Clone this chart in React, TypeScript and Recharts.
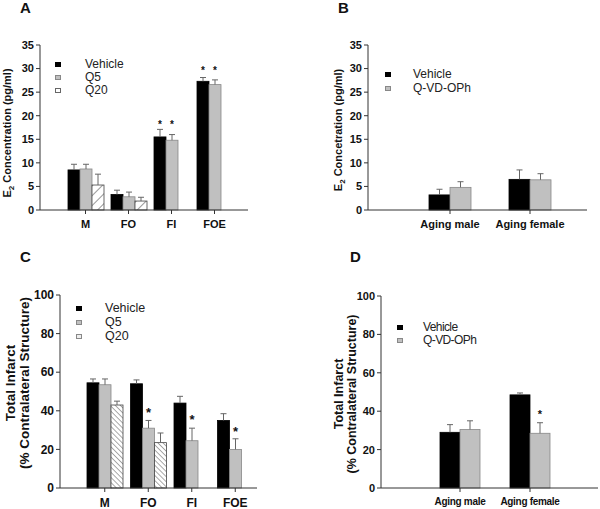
import { BarChart, Bar, XAxis, YAxis, Label } from "recharts";

// panel A - E2 concentration, 4 groups
const catsA = ["M", "FO", "FI", "FOE"];
const vehA = [8.5, 3.3, 15.5, 27.3];
const vehErrA = [1.2, 0.9, 1.6, 0.8];
const q5A = [8.7, 2.8, 14.8, 26.6];
const q5ErrA = [1.0, 1.0, 1.2, 1.0];
const q20A = [5.3, 1.9, null, null];
const q20ErrA = [2.3, 0.8, null, null];
const starA = [null, null, 18.6, 30.2];
const ticksA = [0, 5, 10, 15, 20, 25, 30, 35];

// panel B - aging animals
const catsB = ["Aging male", "Aging female"];
const vehB = [3.2, 6.5];
const vehErrB = [1.2, 2.0];
const qvdB = [4.8, 6.4];
const qvdErrB = [1.2, 1.3];

// panel C - total infarct
const catsC = ["M", "FO", "FI", "FOE"];
const vehC = [54.5, 54, 44, 35];
const vehErrC = [2, 2, 3.5, 3.5];
const q5C = [53.5, 31, 24.5, 20];
const q5ErrC = [3, 4, 6.5, 5.5];
const q20C = [43, 23.5, null, null];
const q20ErrC = [2, 5, null, null];
const starC = [null, 41, 37, 31];
const ticksC = [0, 20, 40, 60, 80, 100];

// panel D
const catsD = ["Aging male", "Aging female"];
const vehD = [29, 48.5];
const vehErrD = [4, 1];
const qvdD = [30.5, 28.5];
const qvdErrD = [4.5, 5.5];
const starD = [null, 40];

const FONT = "Arial, 'Liberation Sans', sans-serif";

const rows = (cats: string[], cols: Record<string, (number | null)[]>) =>
  cats.map((name, i) => {
    const r: any = { name };
    Object.keys(cols).forEach((k) => (r[k] = cols[k][i]));
    return r;
  });

const dataA = rows(catsA, { v: vehA, ve: vehErrA, q: q5A, qe: q5ErrA, z: q20A, ze: q20ErrA, st: starA });
const dataB = rows(catsB, { v: vehB, ve: vehErrB, q: qvdB, qe: qvdErrB });
const dataC = rows(catsC, { v: vehC, ve: vehErrC, q: q5C, qe: q5ErrC, z: q20C, ze: q20ErrC, st: starC });
const dataD = rows(catsD, { v: vehD, ve: vehErrD, q: qvdD, qe: qvdErrD, st: starD });

function barShape(key: string, errKey: string, starKey: string | null, fill: string, stroke: string, starSize = 11) {
  return (p: any) => {
    const v = p.payload?.[key];
    if (v == null || !p.height) return <g />;
    const unit = p.height / v;
    const base = p.y + p.height;
    const cx = p.x + p.width / 2;
    const e = p.payload[errKey];
    const st = starKey ? p.payload[starKey] : null;
    const top = e != null ? p.y - e * unit : p.y;
    return (
      <g>
        <rect x={p.x} y={p.y} width={p.width} height={p.height} fill={fill} stroke={stroke} strokeWidth={0.8} />
        {e != null && (
          <g stroke="#666" strokeWidth={1}>
            <line x1={cx} x2={cx} y1={p.y} y2={top} />
            <line x1={cx - 3} x2={cx + 3} y1={top} y2={top} />
          </g>
        )}
        {st != null && (
          <text x={cx} y={base - st * unit + starSize * 0.6} textAnchor="middle" fontSize={starSize} fontWeight="bold" fontFamily={FONT} fill="#111">
            *
          </text>
        )}
      </g>
    );
  };
}

const tickStyle = (size: number) => ({ fontSize: size, fontWeight: "bold", fill: "#111", fontFamily: FONT });

function LegendBox({ left, top, gap, textLeft, items, size = 12, spacing = 0 }: any) {
  return (
    <div style={{ position: "absolute", left, top, fontFamily: FONT, fontSize: size, color: "#222", letterSpacing: spacing }}>
      {items.map((it: any, i: number) => (
        <div key={it.label} style={{ position: "absolute", top: i * gap, left: 0, height: 14, whiteSpace: "nowrap" }}>
          <div style={{ position: "absolute", left: 0, top: 5, width: 6, height: 5, background: it.fill, border: `1px solid ${it.border}`, boxSizing: "border-box" }} />
          <span style={{ position: "absolute", left: textLeft, top: 0, lineHeight: "14px" }}>{it.label}</span>
        </div>
      ))}
    </div>
  );
}

function PanelLetter({ left, top, text }: any) {
  return (
    <div style={{ position: "absolute", left, top, fontFamily: FONT, fontWeight: "bold", fontSize: 15, lineHeight: "15px", color: "#111" }}>
      {text}
    </div>
  );
}

const axisLine = { stroke: "#333" };

export default function App() {
  return (
    <div style={{ position: "absolute", left: 0, top: 0, width: 600, height: 509, background: "#fff" }}>
      <svg width={0} height={0} style={{ position: "absolute" }}>
        <defs>
          <pattern id="hatchA" patternUnits="userSpaceOnUse" width={7} height={7} patternTransform="rotate(45)">
            <rect width={7} height={7} fill="#fff" />
            <line x1={0} y1={0} x2={0} y2={7} stroke="#333" strokeWidth={1} />
          </pattern>
          <pattern id="hatchC" patternUnits="userSpaceOnUse" width={3.6} height={3.6} patternTransform="rotate(-45)">
            <rect width={3.6} height={3.6} fill="#fff" />
            <line x1={0} y1={0} x2={0} y2={3.6} stroke="#444" strokeWidth={0.9} />
          </pattern>
        </defs>
      </svg>

      <PanelLetter left={20} top={0} text="A" />
      <PanelLetter left={338} top={0} text="B" />
      <PanelLetter left={20} top={249} text="C" />
      <PanelLetter left={350} top={249} text="D" />

      {/* A */}
      <div style={{ position: "absolute", left: 0, top: 0 }}>
        <BarChart width={300} height={250} data={dataA} margin={{ top: 45, right: 52, left: 0, bottom: 0 }} barGap={0}>
          <XAxis dataKey="name" height={40} padding={{ left: 24, right: 12 }} tick={tickStyle(11)} tickSize={4} tickMargin={6} axisLine={axisLine} tickLine={axisLine} interval={0} />
          <YAxis type="number" domain={[0, 35]} ticks={ticksA} width={40} tick={tickStyle(11)} tickSize={4} tickMargin={2} axisLine={axisLine} tickLine={axisLine} interval={0}>
            <Label
              content={() => (
                <text transform="translate(11,133) rotate(-90)" textAnchor="middle" fontSize={11} fontWeight="bold" fontFamily={FONT} fill="#111">
                  E<tspan fontSize={8} dy={3}>2</tspan>
                  <tspan dy={-3}> Concentration (pg/ml)</tspan>
                </text>
              )}
            />
          </YAxis>
          <Bar dataKey="v" barSize={12} isAnimationActive={false} shape={barShape("v", "ve", "st", "#000", "#000", 10)} />
          <Bar dataKey="q" barSize={12} isAnimationActive={false} shape={barShape("q", "qe", "st", "#c0c0c0", "#888", 10)} />
          <Bar dataKey="z" barSize={12} isAnimationActive={false} shape={barShape("z", "ze", null, "url(#hatchA)", "#444")} />
        </BarChart>
      </div>
      <LegendBox
        left={55}
        top={57}
        gap={13}
        textLeft={30}
        items={[
          { label: "Vehicle", fill: "#000", border: "#000" },
          { label: "Q5", fill: "#c0c0c0", border: "#888" },
          { label: "Q20", fill: "#fff", border: "#666" },
        ]}
      />

      {/* B */}
      <div style={{ position: "absolute", left: 300, top: 0 }}>
        <BarChart width={300} height={250} data={dataB} margin={{ top: 45, right: 13, left: 0, bottom: 0 }} barGap={0}>
          <XAxis dataKey="name" height={40} padding={{ left: 42, right: 17 }} tick={tickStyle(11)} tickSize={4} tickMargin={6} axisLine={axisLine} tickLine={axisLine} interval={0} />
          <YAxis type="number" domain={[0, 35]} ticks={ticksA} width={68} tick={tickStyle(11)} tickSize={4} tickMargin={2} axisLine={axisLine} tickLine={axisLine} interval={0}>
            <Label
              content={() => (
                <text transform="translate(42,130) rotate(-90)" textAnchor="middle" fontSize={11} fontWeight="bold" fontFamily={FONT} fill="#111">
                  E<tspan fontSize={8} dy={3}>2</tspan>
                  <tspan dy={-3}> Concetration (pg/ml)</tspan>
                </text>
              )}
            />
          </YAxis>
          <Bar dataKey="v" barSize={21} isAnimationActive={false} shape={barShape("v", "ve", null, "#000", "#000")} />
          <Bar dataKey="q" barSize={21} isAnimationActive={false} shape={barShape("q", "qe", null, "#c0c0c0", "#888")} />
        </BarChart>
      </div>
      <LegendBox
        left={385}
        top={67}
        gap={14}
        textLeft={28}
        items={[
          { label: "Vehicle", fill: "#000", border: "#000" },
          { label: "Q-VD-OPh", fill: "#c0c0c0", border: "#888" },
        ]}
      />

      {/* C */}
      <div style={{ position: "absolute", left: 0, top: 250 }}>
        <BarChart width={300} height={259} data={dataC} margin={{ top: 45, right: 43, left: 0, bottom: 0 }} barGap={0}>
          <XAxis dataKey="name" height={21} padding={{ left: 23, right: 0 }} tick={tickStyle(12)} tickSize={4} tickMargin={6} axisLine={axisLine} tickLine={axisLine} interval={0} />
          <YAxis type="number" domain={[0, 100]} ticks={ticksC} width={60} tick={tickStyle(12)} tickSize={4} tickMargin={2} axisLine={axisLine} tickLine={axisLine} interval={0}>
            <Label
              content={() => (
                <text transform="translate(11,133) rotate(-90)" textAnchor="middle" fontSize={13.5} fontWeight="bold" fontFamily={FONT} fill="#111">
                  <tspan x={0} dy={4}>Total Infarct</tspan>
                  <tspan x={0} dy={14}>(% Contralateral Structure)</tspan>
                </text>
              )}
            />
          </YAxis>
          <Bar dataKey="v" barSize={12} isAnimationActive={false} shape={barShape("v", "ve", null, "#000", "#000")} />
          <Bar dataKey="q" barSize={12} isAnimationActive={false} shape={barShape("q", "qe", "st", "#c0c0c0", "#888", 13)} />
          <Bar dataKey="z" barSize={12} isAnimationActive={false} shape={barShape("z", "ze", null, "url(#hatchC)", "#444")} />
        </BarChart>
      </div>
      <LegendBox
        left={76}
        top={301}
        gap={14}
        textLeft={29}
        size={12.5}
        items={[
          { label: "Vehicle", fill: "#000", border: "#000" },
          { label: "Q5", fill: "#c0c0c0", border: "#888" },
          { label: "Q20", fill: "#eee", border: "#888" },
        ]}
      />

      {/* D */}
      <div style={{ position: "absolute", left: 300, top: 250 }}>
        <BarChart width={300} height={259} data={dataD} margin={{ top: 46, right: 2, left: 0, bottom: 0 }} barGap={0}>
          <XAxis dataKey="name" height={21} padding={{ left: 44, right: 33 }} tick={{ ...tickStyle(10), letterSpacing: -0.3 }} tickSize={4} tickMargin={6} axisLine={axisLine} tickLine={axisLine} interval={0} />
          <YAxis type="number" domain={[0, 100]} ticks={ticksC} width={81} tick={tickStyle(11)} tickSize={4} tickMargin={2} axisLine={axisLine} tickLine={axisLine} interval={0}>
            <Label
              content={() => (
                <text transform="translate(39,144) rotate(-90)" textAnchor="middle" fontSize={12.5} fontWeight="bold" fontFamily={FONT} fill="#111">
                  <tspan x={0} dy={4}>Total Infarct</tspan>
                  <tspan x={0} dy={12.5}>(% Contralateral Structure)</tspan>
                </text>
              )}
            />
          </YAxis>
          <Bar dataKey="v" barSize={20} isAnimationActive={false} shape={barShape("v", "ve", null, "#000", "#000")} />
          <Bar dataKey="q" barSize={20} isAnimationActive={false} shape={barShape("q", "qe", "st", "#c0c0c0", "#888", 11)} />
        </BarChart>
      </div>
      <LegendBox
        left={397}
        top={320}
        gap={13}
        textLeft={26}
        spacing={-0.6}
        items={[
          { label: "Vehicle", fill: "#000", border: "#000" },
          { label: "Q-VD-OPh", fill: "#c0c0c0", border: "#888" },
        ]}
      />
    </div>
  );
}
